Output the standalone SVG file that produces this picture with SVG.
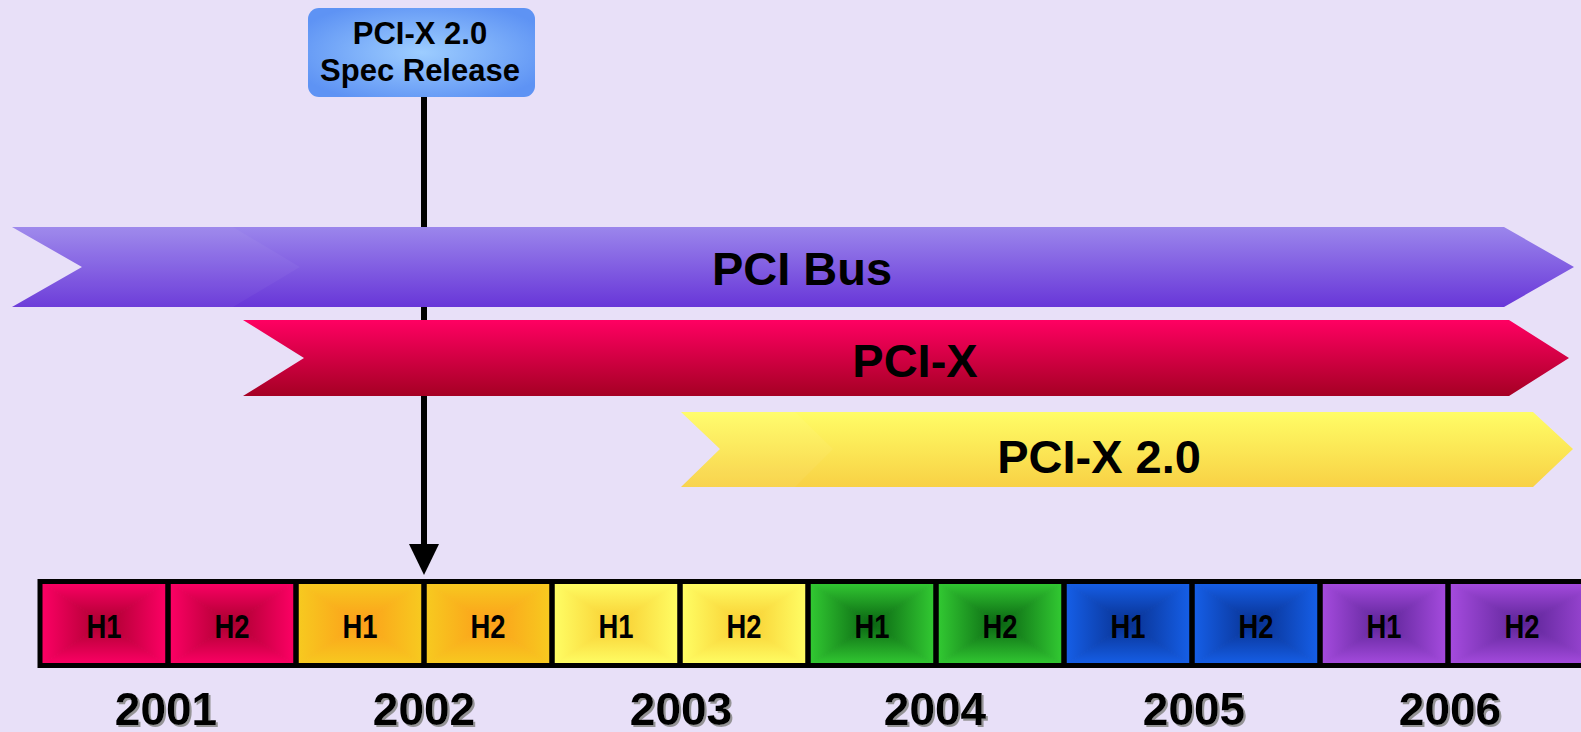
<svg xmlns="http://www.w3.org/2000/svg" xmlns:xlink="http://www.w3.org/1999/xlink" width="1581" height="732" viewBox="0 0 1581 732">
<style>
text{font-family:"Liberation Sans",Arial,sans-serif;font-weight:bold;fill:#000;text-anchor:middle}
.big{font-size:47px}
.box{font-size:31px}
.h{font-size:33px}
.yr{font-size:46px;filter:url(#sh)}
.cb{fill:none;stroke:#000;stroke-width:5}
</style>
<defs>
<filter id="sh" x="-10%" y="-10%" width="130%" height="140%"><feDropShadow dx="2" dy="2" stdDeviation="0.6" flood-color="#8a8a8a" flood-opacity="0.9"/></filter>
<linearGradient id="gPur" x1="0" y1="0" x2="0" y2="1"><stop offset="0" stop-color="#9B86EC"/><stop offset="1" stop-color="#6836D8"/></linearGradient>
<linearGradient id="gRed" x1="0" y1="0" x2="0" y2="1"><stop offset="0" stop-color="#FF0062"/><stop offset="1" stop-color="#A50024"/></linearGradient>
<linearGradient id="gYel" x1="0" y1="0" x2="0" y2="1"><stop offset="0" stop-color="#FFFD66"/><stop offset="1" stop-color="#F8D145"/></linearGradient>
<radialGradient id="gBox" cx="0.5" cy="0.5" r="0.6"><stop offset="0" stop-color="#9DCDFF"/><stop offset="1" stop-color="#5E93F4"/></radialGradient>
<linearGradient id="vR" x1="0" y1="0" x2="0" y2="1"><stop offset="0" stop-color="#FF0066"/><stop offset="0.5" stop-color="#A8002E"/><stop offset="1" stop-color="#FF0066"/></linearGradient>
<linearGradient id="hR" x1="0" y1="0" x2="1" y2="0"><stop offset="0" stop-color="#FF0066"/><stop offset="0.5" stop-color="#A8002E"/><stop offset="1" stop-color="#FF0066"/></linearGradient>
<linearGradient id="vO" x1="0" y1="0" x2="0" y2="1"><stop offset="0" stop-color="#F7CB20"/><stop offset="0.5" stop-color="#FC9E1A"/><stop offset="1" stop-color="#F7CB20"/></linearGradient>
<linearGradient id="hO" x1="0" y1="0" x2="1" y2="0"><stop offset="0" stop-color="#F7CB20"/><stop offset="0.5" stop-color="#FC9E1A"/><stop offset="1" stop-color="#F7CB20"/></linearGradient>
<linearGradient id="vY" x1="0" y1="0" x2="0" y2="1"><stop offset="0" stop-color="#FFFF66"/><stop offset="0.5" stop-color="#F8CC30"/><stop offset="1" stop-color="#FFFF66"/></linearGradient>
<linearGradient id="hY" x1="0" y1="0" x2="1" y2="0"><stop offset="0" stop-color="#FFFF66"/><stop offset="0.5" stop-color="#F8CC30"/><stop offset="1" stop-color="#FFFF66"/></linearGradient>
<linearGradient id="vG" x1="0" y1="0" x2="0" y2="1"><stop offset="0" stop-color="#33CC33"/><stop offset="0.5" stop-color="#0A6412"/><stop offset="1" stop-color="#33CC33"/></linearGradient>
<linearGradient id="hG" x1="0" y1="0" x2="1" y2="0"><stop offset="0" stop-color="#33CC33"/><stop offset="0.5" stop-color="#0A6412"/><stop offset="1" stop-color="#33CC33"/></linearGradient>
<linearGradient id="vB" x1="0" y1="0" x2="0" y2="1"><stop offset="0" stop-color="#1660EA"/><stop offset="0.5" stop-color="#08308E"/><stop offset="1" stop-color="#1660EA"/></linearGradient>
<linearGradient id="hB" x1="0" y1="0" x2="1" y2="0"><stop offset="0" stop-color="#1660EA"/><stop offset="0.5" stop-color="#08308E"/><stop offset="1" stop-color="#1660EA"/></linearGradient>
<linearGradient id="vP" x1="0" y1="0" x2="0" y2="1"><stop offset="0" stop-color="#A74CE0"/><stop offset="0.5" stop-color="#5C2496"/><stop offset="1" stop-color="#A74CE0"/></linearGradient>
<linearGradient id="hP" x1="0" y1="0" x2="1" y2="0"><stop offset="0" stop-color="#A74CE0"/><stop offset="0.5" stop-color="#5C2496"/><stop offset="1" stop-color="#A74CE0"/></linearGradient>
<path id="tb" d="M0,0H128L64,42ZM0,84H128L64,42Z"/>
<path id="lr" d="M0,0V84L64,42ZM128,0V84L64,42Z"/>
<g id="cR"><use xlink:href="#tb" fill="url(#vR)" stroke="url(#vR)" stroke-width="1.2"/><use xlink:href="#lr" fill="url(#hR)" stroke="url(#hR)" stroke-width="0.6"/></g>
<g id="cO"><use xlink:href="#tb" fill="url(#vO)" stroke="url(#vO)" stroke-width="1.2"/><use xlink:href="#lr" fill="url(#hO)" stroke="url(#hO)" stroke-width="0.6"/></g>
<g id="cY"><use xlink:href="#tb" fill="url(#vY)" stroke="url(#vY)" stroke-width="1.2"/><use xlink:href="#lr" fill="url(#hY)" stroke="url(#hY)" stroke-width="0.6"/></g>
<g id="cG"><use xlink:href="#tb" fill="url(#vG)" stroke="url(#vG)" stroke-width="1.2"/><use xlink:href="#lr" fill="url(#hG)" stroke="url(#hG)" stroke-width="0.6"/></g>
<g id="cB"><use xlink:href="#tb" fill="url(#vB)" stroke="url(#vB)" stroke-width="1.2"/><use xlink:href="#lr" fill="url(#hB)" stroke="url(#hB)" stroke-width="0.6"/></g>
<g id="cP"><use xlink:href="#tb" fill="url(#vP)" stroke="url(#vP)" stroke-width="1.2"/><use xlink:href="#lr" fill="url(#hP)" stroke="url(#hP)" stroke-width="0.6"/></g>
</defs>
<rect width="1581" height="732" fill="#E8E0F8"/>

<g id="connectors">
<line x1="424" y1="96" x2="424" y2="546" stroke="#000" stroke-width="6"/>
<polygon points="409,544 439,544 424,575" fill="#000"/>
</g>

<g id="pci-bus">
<path d="M12,227H1504L1574,267L1504,307H12L82,267Z" fill="url(#gPur)"/>
<path d="M12,227H233L300,267L233,307H12L82,267Z" fill="#fff" opacity="0.04"/>
<text class="big" x="802" y="285">PCI Bus</text>
</g>
<g id="pci-x">
<path d="M243,320H1509L1569,358L1509,396H243L304,358Z" fill="url(#gRed)"/>
<text class="big" x="915" y="377">PCI-X</text>
</g>
<g id="pci-x-2">
<path d="M681,412H1533L1573,449L1533,487H681L720,449Z" fill="url(#gYel)"/>
<path d="M681,412H795L833,449L795,487H681L720,449Z" fill="#fff" opacity="0.05"/>
<text class="big" x="1099" y="473">PCI-X 2.0</text>
</g>

<g id="spec-release">
<rect x="308" y="8" width="227" height="89" rx="11" fill="url(#gBox)"/>
<text class="box" x="420" y="44">PCI-X 2.0</text>
<text class="box" x="420" y="81">Spec Release</text>
</g>

<g id="timeline">
<use xlink:href="#cR" transform="translate(40,581.5)"/>
<use xlink:href="#cR" transform="translate(168,581.5)"/>
<use xlink:href="#cO" transform="translate(296,581.5)"/>
<use xlink:href="#cO" transform="translate(424,581.5)"/>
<use xlink:href="#cY" transform="translate(552,581.5)"/>
<use xlink:href="#cY" transform="translate(680,581.5)"/>
<use xlink:href="#cG" transform="translate(808,581.5)"/>
<use xlink:href="#cG" transform="translate(936,581.5)"/>
<use xlink:href="#cB" transform="translate(1064,581.5)"/>
<use xlink:href="#cB" transform="translate(1192,581.5)"/>
<use xlink:href="#cP" transform="translate(1320,581.5)"/>
<use xlink:href="#cP" transform="translate(1448,581.5) scale(1.2,1)"/>
<rect class="cb" x="40" y="581.5" width="128" height="84"/>
<rect class="cb" x="168" y="581.5" width="128" height="84"/>
<rect class="cb" x="296" y="581.5" width="128" height="84"/>
<rect class="cb" x="424" y="581.5" width="128" height="84"/>
<rect class="cb" x="552" y="581.5" width="128" height="84"/>
<rect class="cb" x="680" y="581.5" width="128" height="84"/>
<rect class="cb" x="808" y="581.5" width="128" height="84"/>
<rect class="cb" x="936" y="581.5" width="128" height="84"/>
<rect class="cb" x="1064" y="581.5" width="128" height="84"/>
<rect class="cb" x="1192" y="581.5" width="128" height="84"/>
<rect class="cb" x="1320" y="581.5" width="128" height="84"/>
<rect class="cb" x="1448" y="581.5" width="154" height="84"/>
<text class="h" x="104" y="638" textLength="35" lengthAdjust="spacingAndGlyphs">H1</text>
<text class="h" x="232" y="638" textLength="35" lengthAdjust="spacingAndGlyphs">H2</text>
<text class="h" x="360" y="638" textLength="35" lengthAdjust="spacingAndGlyphs">H1</text>
<text class="h" x="488" y="638" textLength="35" lengthAdjust="spacingAndGlyphs">H2</text>
<text class="h" x="616" y="638" textLength="35" lengthAdjust="spacingAndGlyphs">H1</text>
<text class="h" x="744" y="638" textLength="35" lengthAdjust="spacingAndGlyphs">H2</text>
<text class="h" x="872" y="638" textLength="35" lengthAdjust="spacingAndGlyphs">H1</text>
<text class="h" x="1000" y="638" textLength="35" lengthAdjust="spacingAndGlyphs">H2</text>
<text class="h" x="1128" y="638" textLength="35" lengthAdjust="spacingAndGlyphs">H1</text>
<text class="h" x="1256" y="638" textLength="35" lengthAdjust="spacingAndGlyphs">H2</text>
<text class="h" x="1384" y="638" textLength="35" lengthAdjust="spacingAndGlyphs">H1</text>
<text class="h" x="1522" y="638" textLength="35" lengthAdjust="spacingAndGlyphs">H2</text>
<text class="yr" x="166" y="725">2001</text>
<text class="yr" x="424" y="725">2002</text>
<text class="yr" x="681" y="725">2003</text>
<text class="yr" x="935" y="725">2004</text>
<text class="yr" x="1194" y="725">2005</text>
<text class="yr" x="1450" y="725">2006</text>
</g>
</svg>
